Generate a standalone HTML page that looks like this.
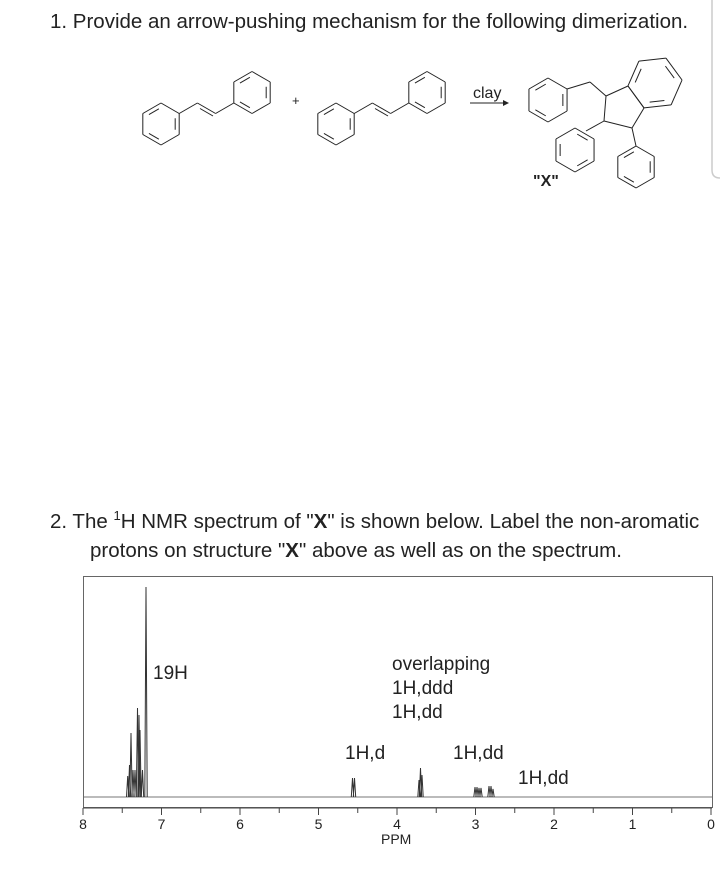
<!DOCTYPE html>
<html><head><meta charset="utf-8"><style>
body{margin:0;background:#fff;width:720px;height:872px;overflow:hidden}
svg{display:block}
text{font-family:"Liberation Sans",sans-serif;fill:#222}
</style></head><body>
<svg id="s" width="720" height="872" viewBox="0 0 720 872" xmlns="http://www.w3.org/2000/svg">
<text x="50" y="28" font-size="20.5">1. Provide an arrow-pushing mechanism for the following dimerization.</text>
<path d="M712 0 V170 Q712 178 720 178" fill="none" stroke="#ccc" stroke-width="1.5"/>
<text x="292" y="105" font-size="13">+</text>
<text x="473" y="98" font-size="16">clay</text>
<line x1="470" y1="103" x2="503" y2="103" stroke="#222" stroke-width="1"/>
<polygon points="503,100 509,103 503,106" fill="#222"/>
<text x="533" y="186" font-size="16" font-weight="bold">"X"</text>
<text x="50" y="528" font-size="20.5">2. The <tspan font-size="13" dy="-8">1</tspan><tspan dy="8">H NMR spectrum of "</tspan><tspan font-weight="bold">X</tspan>" is shown below. Label the non-aromatic</text>
<text x="90" y="557" font-size="20.5">protons on structure "<tspan font-weight="bold">X</tspan>" above as well as on the spectrum.</text>
<rect x="83.5" y="576.5" width="629" height="231" fill="none" stroke="#666" stroke-width="1"/>
<line x1="84" y1="797" x2="712" y2="797" stroke="#777" stroke-width="1"/>
<text x="153" y="679" font-size="19">19H</text>
<text x="392" y="670" font-size="19">overlapping</text>
<text x="392" y="694" font-size="19">1H,ddd</text>
<text x="392" y="718" font-size="19">1H,dd</text>
<text x="345" y="759" font-size="19">1H,d</text>
<text x="453" y="759" font-size="19">1H,dd</text>
<text x="518" y="784" font-size="19">1H,dd</text>
<text x="381" y="844" font-size="14">PPM</text>
<g id="g" stroke="#222" stroke-width="1" fill="none"></g>
</svg>
<script>
var g=document.getElementById('g'),s=document.getElementById('s'),h='';
function L(a,b,c,d,w,col){h+='<line x1="'+a+'" y1="'+b+'" x2="'+c+'" y2="'+d+'"'+(w?' stroke-width="'+w+'"':'')+(col?' stroke="'+col+'"':'')+'/>';}
function ring(cx,cy,r,rot,db){var p=[];for(var i=0;i<6;i++){var a=(rot-90+60*i)*Math.PI/180;p.push([cx+r*Math.cos(a),cy+r*Math.sin(a)]);}
for(var i=0;i<6;i++){var A=p[i],B=p[(i+1)%6];L(A[0],A[1],B[0],B[1]);}
(db||[0,2,4]).forEach(function(i){var A=p[i],B=p[(i+1)%6];var f=0.78,sh=0.15;
var ax=cx+(A[0]-cx)*f,ay=cy+(A[1]-cy)*f,bx=cx+(B[0]-cx)*f,by=cy+(B[1]-cy)*f;
var dx=bx-ax,dy=by-ay;L(ax+dx*sh,ay+dy*sh,bx-dx*sh,by-dy*sh);});return p;}
function stil(o){ring(161+o,124,21,0,[1,3,5]);L(179.2+o,113.5,197.4+o,103);L(197.4+o,103,215.6+o,113.5);
L(200+o,108.5,213+o,116);L(215.6+o,113.5,233.8+o,103);ring(252+o,92.5,21,0,[1,3,5]);}
stil(0);stil(175);
// product
ring(548,100,22,0,[1,3,5]);L(567,89,590,82);L(590,82,606,96);
L(606,96,604,121);L(604,121,632,128);L(632,128,644,108);L(644,108,628,86);L(628,86,606,96);
ring(655,83,27.2,83.7,[1,3,5]);
L(604,121,586,131);ring(575,150,22,0,[0,2,4]);
L(632,128,636,146);ring(636,167,21,0,[1,3,5]);
// axis
L(83,808,712,808,1,'#444');
for(var p=0;p<=16;p++){var x=83+p*39.25;L(x,808,x,p%2?813:815,1,'#444');}
var lbl='';for(var n=0;n<=8;n++){var x=83+(8-n)*78.5;lbl+='<text x="'+x+'" y="829" font-size="14" text-anchor="middle">'+n+'</text>';}
// peaks
function pk(x,top,w){w=w||1;h+='<path d="M'+(x-1.2)+' 797 L'+x+' '+top+' L'+(x+1.2)+' 797" stroke="#333" stroke-width="'+w+'"/>';}
[[127.7,776],[129.5,765],[131,733],[133,770],[135,770],[137.5,708],[139,715],[140,730],[142.5,770],[146,587]].forEach(function(a){pk(a[0],a[1]);});
pk(352.5,778);pk(354.5,778);
pk(419,780);pk(420.5,768);pk(422,775);
pk(475,787);pk(477,787);pk(479,788);pk(481,788);
pk(489,786);pk(491,786);pk(493,789);
g.innerHTML=h;s.insertAdjacentHTML('beforeend',lbl);
</script>
</body></html>
